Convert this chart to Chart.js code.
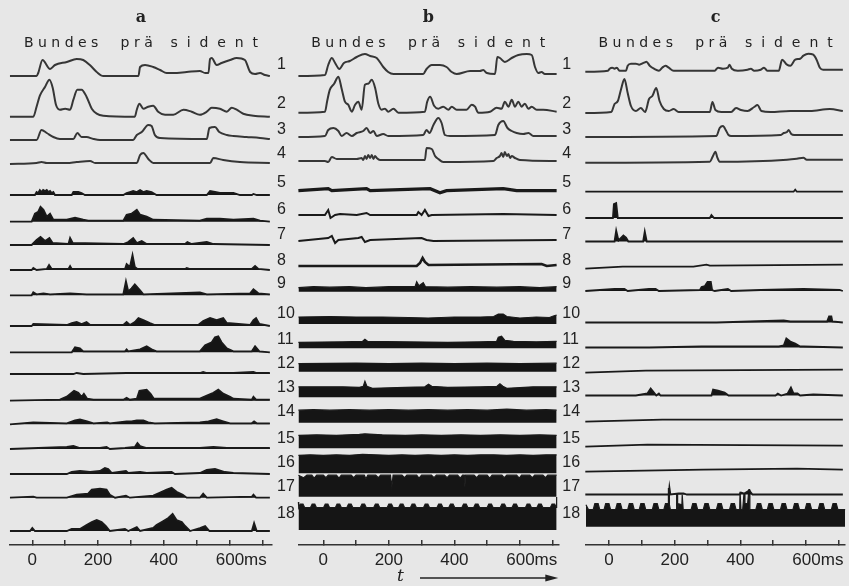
<!DOCTYPE html>
<html><head><meta charset="utf-8">
<script src="https://cdn.jsdelivr.net/npm/chart.js@4.4.1/dist/chart.umd.min.js"></script>
<style>
html,body{margin:0;padding:0;background:#e7e7e7;width:849px;height:586px;overflow:hidden;position:relative;}
canvas{position:absolute;top:0;}
#ca{left:0;} #cb{left:272px;} #cc{left:580px;}
</style></head><body>
<canvas id="ca" width="276" height="586"></canvas>
<canvas id="cb" width="320" height="586"></canvas>
<canvas id="cc" width="269" height="586"></canvas>
<script>
// ---------------- DATA (time in ms, amplitude) ----------------
const panelLetters = ['a', 'b', 'c'];
const wordLabel = 'B u n d e s     p r ä    s  i  d  e  n  t';
const channelLabels = ['1','2','3','4','5','6','7','8','9','10','11','12','13','14','15','16','17','18'];
const timeTicks = [0, 100, 200, 300, 400, 500, 600, 700];
const timeLabels = ['0', '', '200', '', '400', '', '     600ms', ''];

// panel a
const A1 = [[-68,0],[13,0],[18,3],[31,16],[54,7],[69,11],[105,14],[135,17],[155,16],[175,11],[196,4],[216,0],[323,0],[328,9],[343,11],[368,9],[389,6],[409,3],[429,3],[470,4],[510,5],[526,3],[536,3],[541,17],[546,18],[561,11],[576,13],[602,16],[622,18],[647,16],[663,4],[678,2],[693,3],[708,1],[723,0]];
const A2 = [[-68,0],[3,0],[13,10],[23,21],[39,30],[52,37],[62,29],[72,12],[84,7],[100,8],[115,7],[125,17],[137,27],[150,27],[165,20],[181,8],[196,3],[216,1],[312,0],[318,7],[326,13],[338,8],[353,10],[368,11],[383,5],[404,2],[429,2],[460,7],[485,5],[510,2],[531,5],[546,9],[571,8],[592,5],[607,9],[622,7],[642,3],[673,1],[723,0]];
const A3 = [[-68,0],[13,0],[28,10],[44,7],[64,3],[84,1],[125,1],[137,7],[150,3],[165,3],[186,1],[206,0],[307,0],[318,5],[333,8],[353,15],[363,14],[373,5],[389,2],[531,1],[539,12],[556,13],[569,8],[592,5],[612,4],[652,3],[693,2],[723,1]];
const A4 = [[-68,0],[13,1],[28,2],[44,1],[105,1],[135,2],[176,3],[191,1],[318,1],[328,9],[338,11],[353,5],[368,1],[541,1],[551,6],[581,4],[632,2],[723,1]];
const A5 = [[-68,0],[8,0],[13,3],[18,2],[23,5],[28,3],[33,5],[39,4],[44,5],[49,3],[54,4],[59,2],[64,3],[69,0],[120,0],[125,3],[140,3],[150,2],[160,0],[277,0],[287,2],[297,3],[307,4],[318,3],[328,5],[338,3],[348,4],[363,3],[378,0],[531,0],[541,4],[556,3],[571,2],[592,2],[612,2],[632,0],[668,0],[673,1],[683,0],[723,0]];
const A6 = [[-68,0],[-2,0],[8,8],[18,10],[25,15],[34,12],[44,5],[54,8],[64,2],[105,2],[130,4],[155,2],[170,1],[277,1],[287,7],[302,8],[318,12],[328,7],[348,5],[368,2],[510,1],[531,3],[571,3],[612,2],[673,3],[693,1],[723,0]];
const A7 = [[-68,0],[-2,0],[13,5],[25,8],[39,4],[52,7],[62,2],[110,1],[115,7],[123,2],[277,1],[292,3],[307,7],[318,2],[333,4],[348,1],[465,1],[472,3],[485,1],[531,3],[551,1],[723,0]];
const A8 = [[-68,0],[-2,0],[3,2],[13,0],[44,1],[51,5],[59,1],[110,1],[115,4],[120,1],[282,1],[287,6],[297,3],[305,15],[312,3],[320,1],[465,1],[470,2],[480,1],[668,1],[678,4],[688,1],[723,0]];
const A9 = [[-68,0],[-2,0],[3,3],[13,1],[34,2],[54,1],[115,2],[165,1],[277,1],[285,14],[292,4],[302,7],[312,11],[328,5],[338,1],[510,3],[531,1],[663,2],[673,6],[688,2],[723,1]];
const A10 = [[-68,0],[-2,0],[3,2],[105,1],[120,3],[135,4],[150,2],[165,4],[176,1],[277,1],[287,4],[297,1],[312,4],[323,8],[338,6],[358,3],[373,1],[505,1],[520,5],[541,8],[561,6],[581,8],[592,3],[663,1],[673,6],[681,8],[691,2],[723,0]];
const A11 = [[-68,0],[120,0],[130,5],[145,4],[155,1],[282,1],[287,3],[292,1],[328,3],[348,6],[363,3],[378,1],[510,1],[526,7],[546,10],[556,15],[566,16],[576,10],[592,4],[612,1],[668,1],[678,6],[691,1],[723,0]];
const A12 = [[-68,0],[125,0],[135,1],[155,0],[287,1],[510,1],[520,2],[531,1],[612,1],[673,2],[683,1],[723,1]];
const A13 = [[-68,0],[84,1],[105,4],[127,10],[140,8],[150,4],[157,7],[167,2],[186,1],[277,1],[287,3],[297,1],[318,2],[326,10],[348,11],[360,7],[370,2],[510,2],[531,5],[551,8],[566,11],[581,7],[602,4],[612,2],[668,1],[673,4],[681,1],[723,1]];
const A14 = [[-68,0],[3,2],[105,1],[130,4],[145,5],[167,3],[186,1],[228,2],[236,1],[287,3],[302,3],[318,4],[338,4],[353,2],[373,1],[510,2],[536,3],[561,5],[581,3],[602,1],[668,1],[675,3],[683,1],[723,1]];
const A15 = [[-68,0],[105,2],[125,3],[145,1],[206,1],[226,2],[236,0],[282,1],[312,2],[320,6],[328,3],[348,1],[510,1],[551,2],[592,1],[723,1]];
const A16 = [[-68,0],[105,0],[120,2],[145,3],[176,2],[206,3],[221,6],[231,5],[242,1],[285,3],[292,1],[328,2],[348,1],[424,2],[434,0],[510,1],[531,4],[556,5],[586,2],[612,1],[723,0]];
const A17 = [[-68,0],[3,1],[13,0],[105,0],[135,3],[170,4],[181,8],[206,9],[226,8],[236,3],[252,0],[285,2],[297,0],[368,2],[389,5],[409,8],[424,10],[439,6],[458,3],[470,0],[510,0],[520,4],[531,0],[668,1],[673,3],[681,0],[723,0]];
const A18 = [[-68,0],[-7,0],[0,3],[8,0],[105,0],[120,2],[145,2],[165,6],[181,9],[196,11],[211,9],[224,5],[236,0],[282,2],[292,0],[318,4],[328,0],[368,3],[378,6],[399,10],[414,13],[427,17],[439,11],[455,9],[465,5],[480,0],[510,3],[526,5],[539,0],[668,0],[675,8],[683,0],[723,0]];

// panel b
const B1 = [[-76,-1],[5,0],[15,10],[26,17],[36,12],[49,6],[63,12],[81,14],[102,18],[127,21],[143,19],[163,17],[183,8],[198,3],[214,1],[305,1],[315,6],[331,10],[356,10],[376,8],[392,3],[407,1],[448,4],[478,4],[488,5],[499,2],[524,1],[531,18],[539,17],[554,13],[575,17],[595,20],[621,21],[636,20],[646,8],[656,2],[666,3],[676,1],[712,1]];
const B2 = [[-76,0],[5,1],[12,12],[20,23],[33,29],[46,36],[56,24],[66,11],[76,8],[87,1],[97,8],[107,11],[117,3],[127,28],[137,29],[148,33],[158,25],[168,9],[178,3],[188,4],[198,1],[214,4],[229,0],[310,1],[317,11],[326,16],[338,7],[351,4],[366,6],[382,3],[392,6],[407,3],[437,3],[453,8],[463,6],[473,0],[509,1],[529,5],[544,4],[554,11],[565,6],[575,13],[585,6],[595,11],[605,6],[615,9],[626,4],[636,6],[651,3],[671,3],[712,1]];
const B3 = [[-76,-1],[5,0],[15,6],[31,8],[46,5],[56,0],[71,3],[87,0],[102,3],[122,5],[132,8],[143,3],[153,5],[163,0],[183,2],[198,0],[305,1],[315,6],[324,3],[336,11],[351,18],[361,13],[371,1],[387,0],[524,1],[534,11],[549,15],[562,8],[575,5],[590,3],[610,2],[626,3],[641,0],[712,0]];
const B4 = [[-76,-1],[5,-1],[15,-2],[26,3],[41,1],[102,1],[117,2],[122,0],[127,4],[132,1],[137,5],[143,2],[148,5],[153,1],[158,4],[163,2],[173,0],[310,0],[315,12],[331,11],[341,4],[351,1],[366,-2],[519,-1],[529,2],[539,4],[544,7],[549,3],[554,8],[560,4],[565,6],[570,2],[575,4],[585,2],[600,0],[712,-1]];
const B5 = [[-76,0],[15,2],[26,0],[132,2],[143,0],[326,2],[356,-2],[376,0],[549,2],[570,1],[590,0],[712,0]];
const B6 = [[-76,0],[5,0],[15,5],[22,-3],[36,0],[51,1],[102,0],[132,2],[143,0],[285,0],[290,3],[300,0],[310,5],[321,-1],[331,0],[549,1],[712,0]];
const B7 = [[-76,-1],[15,2],[26,4],[36,-3],[46,0],[107,2],[117,3],[127,-2],[143,0],[300,2],[315,0],[336,-1],[712,0]];
const B8 = [[-76,0],[285,0],[295,3],[303,8],[310,4],[321,1],[666,2],[682,0],[712,1]];
const B9 = [[-76,4],[-30,5],[20,4.5],[80,5],[130,4],[200,5],[280,5],[285,10],[292,6],[305,9],[312,5],[380,4.5],[450,5],[530,4.5],[600,5],[660,4],[712,5]];
const B10 = [[-76,7],[20,7.5],[100,7],[180,7],[260,6.5],[320,6],[400,7],[480,7],[520,7.5],[534,10],[549,10],[560,7.5],[600,6],[650,7],[690,6.5],[702,8],[712,9]];
const B11 = [[-76,6],[60,6.5],[120,7],[127,9],[135,7],[250,6.5],[380,6],[480,6.5],[529,7],[534,11],[544,12],[554,8],[580,7],[650,6.5],[712,7]];
const B12 = [[-76,8],[100,8.5],[200,8],[300,8.5],[400,8],[500,8.5],[600,8],[712,8.5]];
const B13 = [[-76,10.5],[60,10.5],[110,10],[122,11],[127,16],[133,11],[150,9],[250,10],[310,10.5],[321,13],[331,11],[380,10],[480,10.5],[530,11],[539,13.5],[548,11],[560,9],[640,10.5],[712,10.5]];
const B14 = [[-76,12.5],[-30,13],[20,12.5],[80,13],[140,12.5],[200,13],[260,12.5],[320,13],[380,12.5],[440,13],[500,12.5],[560,13.5],[620,12.5],[680,13],[712,12.5]];
const B15 = [[-76,13],[-20,13.5],[40,13],[110,14],[127,14.5],[180,13.5],[250,13],[300,13.5],[360,13],[420,13.5],[480,13],[540,13.5],[600,13],[660,13.5],[712,13]];
const B16 = [[-76,18],[-40,18.5],[0,18],[40,18.5],[80,18],[120,19],[160,18.5],[200,18],[240,18.5],[280,18],[320,18.5],[360,18],[400,18.5],[440,18],[480,18.5],[520,18.5],[560,18],[600,18.5],[640,18],[680,18.5],[712,18.5]];
const B17 = [[-76,21.5],[-60,19],[-50,21.5],[-35,21.5],[-28,18.5],[-20,21.5],[0,21.5],[8,19],[15,21.5],[40,21.5],[48,18.5],[55,21.5],[85,21.5],[93,19],[100,21.5],[125,21.5],[130,18],[136,21.5],[160,21.5],[168,19],[175,21.5],[205,21.5],[209,10],[213,21.5],[240,21.5],[248,19],[255,21.5],[285,21.5],[292,18.5],[300,21.5],[330,21.5],[338,19],[345,21.5],[370,21.5],[378,19],[385,21.5],[410,21.5],[418,18.5],[425,21.5],[430,21.5],[432,10],[434,21.5],[460,21.5],[468,19],[475,21.5],[500,21.5],[508,18.5],[515,21.5],[545,21.5],[552,19],[560,21.5],[590,21.5],[598,18.5],[605,21.5],[630,21.5],[638,19],[645,21.5],[670,21.5],[678,19],[685,21.5],[712,21.5]];
const B18 = [[-76,28],[-75,22.5],[-70,26],[-62,26],[-57,22.5],[-39,22.5],[-34,26],[-26,26],[-21,22.5],[1,22.5],[6,26],[14,26],[19,22.5],[37,22.5],[42,26],[50,26],[55,22.5],[72,22.5],[77,26],[85,26],[90,22.5],[113,22.5],[118,26],[126,26],[131,22.5],[154,22.5],[159,26],[167,26],[172,22.5],[195,22.5],[200,26],[208,26],[213,22.5],[230,22.5],[235,26],[243,26],[248,22.5],[266,22.5],[271,26],[279,26],[284,22.5],[306,22.5],[311,26],[319,26],[324,22.5],[347,22.5],[352,26],[360,26],[365,22.5],[383,22.5],[388,26],[396,26],[401,22.5],[423,22.5],[428,26],[436,26],[441,22.5],[459,22.5],[464,26],[472,26],[477,22.5],[500,22.5],[505,26],[513,26],[518,22.5],[540,22.5],[545,26],[553,26],[558,22.5],[576,22.5],[581,26],[589,26],[594,22.5],[617,22.5],[622,26],[630,26],[635,22.5],[652,22.5],[657,26],[665,26],[670,22.5],[693,22.5],[698,26],[706,26],[711,22.5],[712,33]];

// panel c
const C1 = [[-72,-1],[-3,0],[2,2],[10,3],[17,2],[24,3],[32,0],[52,0],[57,5],[67,7],[82,7],[92,6],[107,8],[114,9],[124,5],[137,2],[152,0],[162,3],[172,5],[182,3],[197,0],[322,0],[332,3],[347,2],[362,3],[367,6],[374,2],[392,0],[422,1],[432,2],[442,0],[462,1],[472,3],[482,0],[517,0],[527,11],[542,6],[552,5],[567,11],[582,12],[592,15],[607,17],[622,16],[632,11],[642,3],[652,1],[712,1]];
const C2 = [[-72,-1],[7,0],[17,8],[27,11],[37,23],[47,33],[57,19],[67,6],[82,1],[97,4],[110,0],[122,13],[132,16],[144,24],[154,11],[167,3],[182,1],[197,3],[212,0],[307,0],[315,10],[324,2],[342,0],[372,0],[387,4],[402,2],[422,1],[442,5],[452,7],[464,1],[492,0],[552,1],[612,1],[672,3],[712,1]];
const C3 = [[-72,-1],[327,0],[337,8],[347,10],[357,5],[364,1],[372,0],[522,1],[532,3],[542,4],[547,6],[555,2],[564,1],[712,1]];
const C4 = [[-72,0],[307,1],[317,7],[324,11],[330,5],[337,1],[542,3],[572,4],[592,5],[602,3],[712,3]];
const C5 = [[-72,0],[562,0],[567,2],[572,0],[712,0]];
const C6 = [[-72,0],[12,0],[15,14],[22,15],[27,0],[307,0],[312,3],[320,0],[712,0]];
const C7 = [[-72,0],[17,0],[22,11],[29,1],[44,6],[52,4],[59,0],[104,0],[109,10],[115,0],[712,0]];
const C8 = [[-72,-1],[42,1],[257,1],[297,3],[307,2],[712,3]];
const C9 = [[-72,0],[17,2],[47,2],[57,0],[122,2],[142,2],[152,0],[277,1],[282,4],[292,5],[300,9],[310,9],[314,1],[322,0],[362,2],[372,0],[462,1],[592,2],[702,1],[712,0]];
const C10 = [[-72,0],[327,0],[532,2],[552,1],[664,1],[670,6],[677,6],[680,1],[712,0]];
const C11 = [[-72,0],[122,0],[282,1],[517,1],[532,2],[540,9],[552,6],[567,4],[582,1],[592,1],[712,0]];
const C12 = [[-72,-1],[112,1],[712,2]];
const C13 = [[-72,0],[82,0],[117,2],[127,7],[137,3],[144,0],[152,2],[157,0],[312,0],[317,6],[332,5],[352,3],[364,0],[507,0],[514,2],[524,0],[544,2],[554,8],[562,2],[574,2],[582,0],[622,1],[712,0]];
const C14 = [[-72,0],[162,2],[312,2],[712,2]];
const C15 = [[-72,0],[117,2],[712,1]];
const C16 = [[-72,-1],[287,1],[572,2],[712,1]];
const C17 = [[-72,0],[112,0],[182,0],[184,7],[187,0],[212,1],[227,1],[237,0],[397,0],[402,2],[412,1],[427,4],[437,0],[712,0]];
const C18 = [[-70,22],[-62,17],[-48,17],[-43,23],[-33,23],[-28,17],[-15,17],[-10,23],[0,23],[5,17],[20,17],[25,23],[35,23],[40,17],[57,17],[62,23],[72,23],[77,17],[92,17],[97,23],[107,23],[112,17],[132,17],[137,23],[147,23],[152,17],[167,17],[172,23],[180,23],[181,38],[183,38],[184,22],[187,17],[205,17],[206,33],[208,33],[209,17],[212,23],[222,22],[223,32],[225,32],[226,17],[250,17],[255,23],[265,23],[270,17],[287,17],[292,23],[302,23],[307,17],[327,17],[332,23],[342,23],[347,17],[367,17],[372,23],[382,23],[387,17],[398,17],[399,35],[401,35],[402,17],[407,17],[411,33],[413,33],[414,23],[422,23],[426,37],[428,37],[429,17],[447,17],[452,23],[462,23],[467,17],[482,17],[487,23],[497,23],[502,17],[522,17],[527,23],[537,23],[542,17],[560,17],[565,23],[575,23],[580,17],[597,17],[602,23],[612,23],[617,17],[637,17],[642,23],[652,23],[657,17],[677,17],[682,23],[692,23],[697,17],[719,17]];

// ---------------- LAYOUT (vertical position of each channel's baseline, in figure px) ----------------
const LAYOUT = {
  baseA: [76,116.7,140,164,195,221.7,245,270,295.3,326,352.3,374,400.7,424.3,449,474,497.7,531],
  baseB: [75,112.7,136,160,190.7,215,240,266,291.7,324,348.3,371.7,397.3,422.7,448.3,473.3,496.7,530],
  baseC: [70.7,112,136,162.7,191.7,218,241.5,267.7,291,322.5,347.5,371.7,395.5,421.7,446.7,470.7,494.5,526.7],
  labelY: [65,104,130,154,183,210,235,261,284,314,340,364,388,412,439,463,487,514],
  fillA: [5,6,7,8,9,10,11,12,13,14,15,16,17,18],
  fillB: [9,10,11,12,13,14,15,16,17,18],
  fillC: [6,7,9,10,11,13,17,18]
};

const traceA = [A1,A2,A3,A4,A5,A6,A7,A8,A9,A10,A11,A12,A13,A14,A15,A16,A17,A18];
const traceB = [B1,B2,B3,B4,B5,B6,B7,B8,B9,B10,B11,B12,B13,B14,B15,B16,B17,B18];
const traceC = [C1,C2,C3,C4,C5,C6,C7,C8,C9,C10,C11,C12,C13,C14,C15,C16,C17,C18];

const INK = '#1a1a1a';
const SOFT = '#363636';

function buildDatasets(traces, bases, fillRows, widths) {
  return traces.map((pts, i) => {
    const base = bases[i];
    const row = i + 1;
    return {
      data: pts.map(p => ({ x: p[0], y: base - p[1] })),
      borderColor: row <= 4 ? SOFT : INK,
      borderWidth: (widths && widths[row]) || (row <= 4 ? 2 : 1.8),
      pointRadius: 0,
      cubicInterpolationMode: row <= 4 ? 'monotone' : 'default',
      tension: 0,
      fill: fillRows.includes(row) ? { value: base } : false,
      backgroundColor: '#151515',
      clip: false
    };
  });
}

const timeArrow = {
  id: 'timeArrow',
  afterDraw(chart) {
    if (!chart.options.plugins.timeArrow || !chart.options.plugins.timeArrow.show) return;
    const { ctx, scales: { x }, chartArea } = chart;
    const y = chart.height - 8;
    const xt = x.getPixelForValue(235);
    ctx.save();
    ctx.fillStyle = '#222';
    ctx.strokeStyle = '#222';
    ctx.font = 'italic 17px "DejaVu Serif"';
    ctx.textAlign = 'center';
    ctx.textBaseline = 'middle';
    ctx.fillText('t', xt, y - 1);
    const x0 = x.getPixelForValue(295);
    const x1 = chartArea.right;
    ctx.lineWidth = 1.4;
    ctx.beginPath(); ctx.moveTo(x0, y); ctx.lineTo(x1 - 8, y); ctx.stroke();
    ctx.beginPath(); ctx.moveTo(x1, y); ctx.lineTo(x1 - 13, y - 3.5); ctx.lineTo(x1 - 13, y + 3.5); ctx.closePath(); ctx.fill();
    ctx.restore();
  }
};

function makePanel(id, letter, datasets, xmin, xmax, padL, padR, withLabels, arrow) {
  const tickFont = { family: 'Liberation Sans', size: 17 };
  const labelFont = { family: 'Liberation Sans', size: 16 };
  const scales = {
    x: {
      type: 'linear', position: 'bottom', min: xmin, max: xmax,
      afterBuildTicks: s => { s.ticks = timeTicks.map(v => ({ value: v })); },
      afterFit: s => { s.height = 36; },
      ticks: { autoSkip: false, maxRotation: 0, padding: 10, font: tickFont, color: '#222',
               callback: (v, i) => timeLabels[i] },
      grid: { display: true, drawOnChartArea: false, drawTicks: true, tickLength: -5, color: '#333', lineWidth: 1.5 },
      border: { display: true, color: '#333', width: 1.5 }
    },
    y: {
      type: 'linear', position: 'left', reverse: true, min: 0, max: 586, display: withLabels,
      grid: { display: false, drawTicks: false, tickLength: 0 }, border: { display: false }
    }
  };
  if (withLabels) {
    Object.assign(scales.y, {
      afterFit: s => { s.width = 21.3; },
      afterBuildTicks: s => { s.ticks = LAYOUT.labelY.map(v => ({ value: v })); },
      ticks: { autoSkip: false, crossAlign: 'far', padding: 0, font: labelFont, color: '#222',
               callback: (v, i) => channelLabels[i] }
    });
    scales.y2 = {
      type: 'linear', position: 'right', reverse: true, min: 0, max: 586, display: true,
      afterFit: s => { s.width = 33.7; },
      afterBuildTicks: s => { s.ticks = LAYOUT.labelY.map(v => ({ value: v })); },
      ticks: { autoSkip: false, padding: 4, font: labelFont, color: '#222',
               callback: (v, i) => channelLabels[i] },
      grid: { display: false, drawTicks: false, tickLength: 0 }, border: { display: false }
    };
  }
  const chart = new Chart(document.getElementById(id), {
    type: 'line',
    data: { datasets },
    options: {
      responsive: false, animation: false, events: [],
      layout: { padding: { left: padL, right: padR, top: 0, bottom: 5 } },
      plugins: {
        legend: { display: false }, tooltip: { enabled: false },
        title: { display: true, text: letter, fullSize: false, color: '#222',
                 font: { family: 'DejaVu Serif', weight: 'bold', size: 16 }, padding: { top: 8, bottom: 8 } },
        subtitle: { display: true, text: wordLabel, fullSize: false, color: '#222',
                    font: { family: 'DejaVu Sans', size: 14 }, padding: { top: 0, bottom: 4 } },
        timeArrow: { show: arrow }
      },
      scales
    },
    plugins: [timeArrow]
  });
  const ca = chart.chartArea;
  chart.options.scales.y.min = ca.top; chart.options.scales.y.max = ca.bottom;
  if (withLabels) { chart.options.scales.y2.min = ca.top; chart.options.scales.y2.max = ca.bottom; }
  chart.update('none');
  return chart;
}

makePanel('ca', panelLetters[0], buildDatasets(traceA, LAYOUT.baseA, LAYOUT.fillA, null), -67.9, 729.5, 10, 4, false, false);
makePanel('cb', panelLetters[1], buildDatasets(traceB, LAYOUT.baseB, LAYOUT.fillB, { 5: 3.2, 6: 2, 7: 2, 8: 2.6, 9: 1.2, 10: 1.2, 11: 1.2, 12: 1.2, 13: 1.2, 14: 1.2, 15: 1.2, 16: 1.2, 17: 1.2, 18: 1.2 }), -76.3, 717.1, 5, 0, true, true);
makePanel('cc', panelLetters[2], buildDatasets(traceC, LAYOUT.baseC, LAYOUT.fillC, { 18: 1.2 }), -69.9, 719.1, 6, 0, false, false);
</script>
</body></html>
